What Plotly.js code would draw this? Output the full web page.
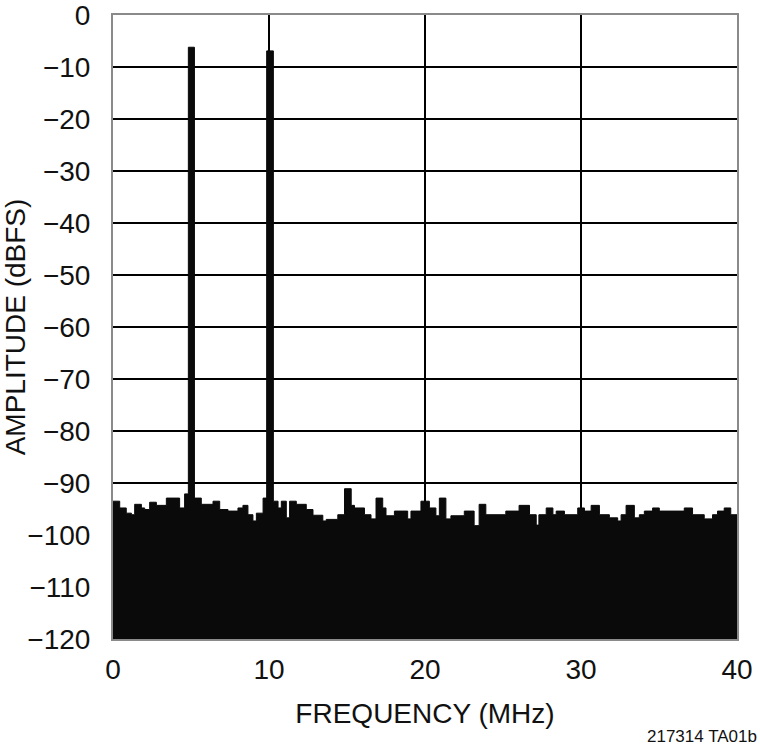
<!DOCTYPE html>
<html>
<head>
<meta charset="utf-8">
<script src="https://cdn.plot.ly/plotly-3.0.1.min.js"></script>
<style>
  html, body { margin: 0; padding: 0; background: #ffffff; }
  #chart { width: 760px; height: 754px; }
</style>
</head>
<body>
<div id="chart"></div>
<script>
// Step-start frequencies (MHz) of the FFT spectrum trace
const freqMHz = [
  0, 0.43, 0.85, 1.18, 1.39, 1.82, 2.03, 2.35, 2.78, 3.42,
  4.27, 4.59, 4.83, 5.22, 5.66, 6.41, 6.84, 7.37, 8.01, 8.33,
  8.65, 8.97, 9.19, 9.62, 9.85, 10.28, 10.58, 10.79, 11.11, 11.32,
  11.75, 12.39, 12.82, 13.45, 13.67, 14.41, 14.84, 15.27, 15.48, 16.12,
  16.54, 16.86, 17.29, 17.5, 18.04, 18.89, 19.1, 19.74, 20.28, 20.7,
  20.92, 21.34, 21.66, 22.52, 23.15, 23.47, 23.9, 25.18, 26.03, 26.7,
  27.13, 27.3, 27.77, 28.2, 28.41, 28.94, 29.79, 30.22, 30.65, 31.18,
  31.82, 32.35, 32.57, 32.89, 33.42, 33.74, 34.06, 34.59, 35.02, 36.62,
  37.15, 37.9, 38.43, 38.75, 39.18, 39.6, 40
];
// Amplitude (dBFS) of each step
const amplitudeDBFS = [
  -93.5, -94.8, -95.8, -96.1, -94.1, -94.8, -95.1, -93.7, -94.3, -92.9,
  -94.8, -92.1, -6.2, -92.9, -94.1, -93.5, -95.1, -95.4, -94.8, -94.3,
  -96.1, -97.3, -95.8, -92.9, -6.9, -93.5, -94.8, -93.5, -96.7, -93.5,
  -94.1, -95.1, -96.2, -97.3, -97.0, -96.1, -91.1, -94.3, -94.8, -96.1,
  -96.9, -92.9, -94.8, -96.3, -95.4, -96.9, -95.4, -93.5, -94.8, -96.3,
  -92.9, -96.9, -96.3, -95.4, -98.2, -94.1, -96.1, -95.4, -94.3, -96.1,
  -98.1, -96.1, -94.8, -96.1, -95.4, -96.1, -94.8, -95.4, -94.3, -96.1,
  -96.7, -97.3, -96.1, -94.3, -96.7, -96.1, -95.4, -94.8, -95.4, -94.8,
  -96.1, -96.9, -96.1, -95.4, -94.8, -96.1, -96.1
];
const floorFreq = [0, 40];
const floorDBFS = [-120, -120];

const xTickVals = [0, 10, 20, 30, 40];
const xTickText = ['0', '10', '20', '30', '40'];
const yTickVals = [0, -10, -20, -30, -40, -50, -60, -70, -80, -90, -100, -110, -120];
const yTickText = ['0', '\u221210', '\u221220', '\u221230', '\u221240', '\u221250', '\u221260',
                   '\u221270', '\u221280', '\u221290', '\u2212100', '\u2212110', '\u2212120'];

const FONT = '"Liberation Sans", Arial, sans-serif';

const traces = [
  {
    x: floorFreq, y: floorDBFS, type: 'scatter', mode: 'lines',
    line: { width: 0, color: '#0a0a0a' }, hoverinfo: 'skip', showlegend: false
  },
  {
    x: freqMHz, y: amplitudeDBFS, type: 'scatter', mode: 'lines',
    line: { shape: 'hv', width: 1, color: '#0a0a0a' },
    fill: 'tonexty', fillcolor: '#0a0a0a', showlegend: false
  }
];

const layout = {
  width: 760, height: 754,
  paper_bgcolor: '#ffffff', plot_bgcolor: '#ffffff',
  margin: { l: 113, r: 23, t: 15, b: 115, pad: 0 },
  showlegend: false,
  font: { family: FONT, color: '#111111', size: 28 },
  xaxis: {
    range: [0, 40], tickvals: xTickVals, ticktext: xTickText,
    showgrid: true, gridcolor: '#000000', gridwidth: 1.5,
    zeroline: false, showline: true, mirror: true, linecolor: '#8a8a8a', linewidth: 2,
    ticks: '', ticklabelstandoff: 4, ticklabeloverflow: 'allow',
    tickfont: { family: FONT, size: 28, color: '#111111' },
    title: { text: 'FREQUENCY (MHz)', font: { family: FONT, size: 28, color: '#111111' }, standoff: 20 },
    fixedrange: true
  },
  yaxis: {
    range: [-120, 0], tickvals: yTickVals, ticktext: yTickText,
    showgrid: true, gridcolor: '#000000', gridwidth: 1.5,
    zeroline: false, showline: true, mirror: true, linecolor: '#8a8a8a', linewidth: 2,
    ticks: '', ticklabelstandoff: 15, ticklabeloverflow: 'allow',
    tickfont: { family: FONT, size: 28, color: '#111111' },
    title: { text: 'AMPLITUDE (dBFS)', font: { family: FONT, size: 28, color: '#111111' }, standoff: 8 },
    fixedrange: true
  },
  annotations: [
    {
      text: '217314 TA01b', xref: 'paper', yref: 'paper', x: 1.035, y: -0.157,
      xanchor: 'right', yanchor: 'middle', showarrow: false,
      font: { family: FONT, size: 17, color: '#111111' }
    }
  ]
};

Plotly.newPlot('chart', traces, layout, { staticPlot: true, displayModeBar: false });
</script>
</body>
</html>
